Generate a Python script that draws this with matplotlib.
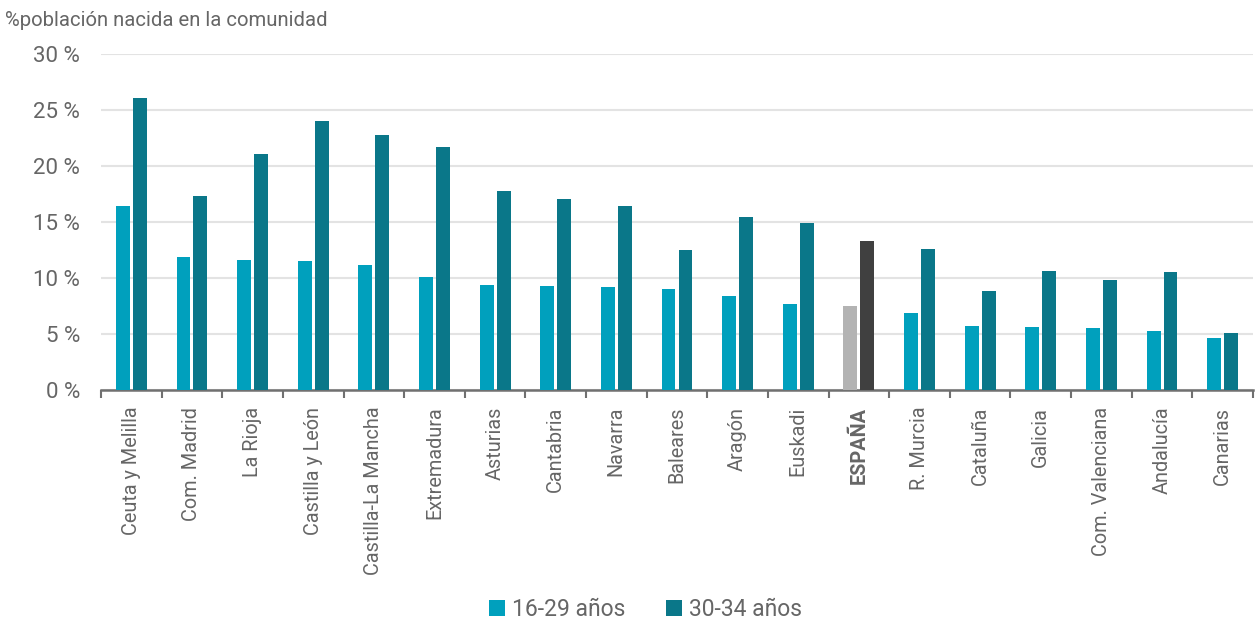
import matplotlib
matplotlib.use("Agg")
import matplotlib.pyplot as plt
import numpy as np

plt.rcParams['font.family'] = ['Roboto', 'DejaVu Sans']

categories = ["Ceuta y Melilla", "Com. Madrid", "La Rioja", "Castilla y León",
              "Castilla-La Mancha", "Extremadura", "Asturias", "Cantabria",
              "Navarra", "Baleares", "Aragón", "Euskadi", "ESPAÑA", "R. Murcia",
              "Cataluña", "Galicia", "Com. Valenciana", "Andalucía", "Canarias"]
age_16_29 = [16.4, 11.9, 11.6, 11.5, 11.2, 10.1, 9.4, 9.3, 9.2, 9.0, 8.4, 7.7,
             7.5, 6.9, 5.7, 5.65, 5.55, 5.3, 4.65]
age_30_34 = [26.05, 17.3, 21.1, 24.0, 22.8, 21.75, 17.8, 17.1, 16.4, 12.5, 15.5,
             14.95, 13.3, 12.6, 8.85, 10.65, 9.85, 10.55, 5.1]
series_labels = ["16-29 años", "30-34 años"]
yticks = [0, 5, 10, 15, 20, 25, 30]

c1, c2 = "#00A0BD", "#0A7789"
e1, e2 = "#B3B3B3", "#404040"
txt = "#666666"

fig = plt.figure(figsize=(12.58, 6.23), dpi=100)
ax = fig.add_axes([0.0803, 0.374, 0.9157, 0.539])

x = np.arange(len(categories))
w = 0.23
off = 0.14
cols1 = [e1 if c == "ESPAÑA" else c1 for c in categories]
cols2 = [e2 if c == "ESPAÑA" else c2 for c in categories]
ax.bar(x - off, age_16_29, width=w, color=cols1, label=series_labels[0], zorder=3)
ax.bar(x + off, age_30_34, width=w, color=cols2, label=series_labels[1], zorder=3)

ax.set_xlim(-0.5, len(categories) - 0.5)
ax.set_ylim(0, 30)
ax.set_yticks(yticks)
ax.set_yticklabels([f"{v} %" for v in yticks], fontsize=16, color=txt)
ax.yaxis.grid(True, color="#E3E3E3", linewidth=1.5, zorder=0)
ax.tick_params(axis='y', length=0, pad=15)

# category labels
ax.set_xticks(x)
ax.set_xticklabels(categories, rotation=90, fontsize=14.3, color=txt)
for lbl in ax.get_xticklabels():
    if lbl.get_text() == "ESPAÑA":
        lbl.set_fontweight("bold")
ax.tick_params(axis='x', which='major', length=0, pad=12)
ax.set_xticks(np.arange(-0.5, len(categories), 1), minor=True)
ax.tick_params(axis='x', which='minor', length=6, width=1.5, color="#707070")

for s in ["top", "right", "left"]:
    ax.spines[s].set_visible(False)
ax.spines["bottom"].set_color("#707070")
ax.spines["bottom"].set_linewidth(1.8)

fig.text(0.004, 0.982, "%población nacida en la comunidad", fontsize=14.6,
         color=txt, ha="left", va="top")

leg = fig.legend(loc="lower center", bbox_to_anchor=(0.513, -0.03), ncol=2,
                 frameon=False, fontsize=16.5, handlelength=0.7, handleheight=0.7,
                 handletextpad=0.3, columnspacing=1.8)
for t in leg.get_texts():
    t.set_color(txt)

fig.savefig("out.png", dpi=100)
